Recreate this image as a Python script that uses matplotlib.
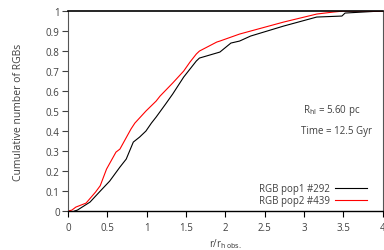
import matplotlib
matplotlib.use("Agg")
import matplotlib.pyplot as plt

plt.rcParams['font.family'] = ['Open Sans', 'DejaVu Sans']

pop1_x = [0.08, 0.12, 0.2, 0.28, 0.41, 0.53, 0.66, 0.74, 0.83, 0.91, 0.99, 1.06, 1.12, 1.24,
          1.33, 1.47, 1.55, 1.63, 1.67, 1.8, 1.93, 2.07, 2.18, 2.32, 2.74, 3.16, 3.48, 3.52, 3.97, 4.0]
pop1_y = [0, 0.005, 0.025, 0.045, 0.1, 0.15, 0.22, 0.26, 0.345, 0.37, 0.4, 0.44, 0.47, 0.535,
          0.585, 0.67, 0.71, 0.75, 0.765, 0.78, 0.795, 0.84, 0.85, 0.875, 0.925, 0.97, 0.975, 0.99, 1.0, 1.0]
pop2_x = [0, 0.05, 0.1, 0.23, 0.35, 0.41, 0.49, 0.61, 0.66, 0.8, 0.85, 0.99, 1.12, 1.17, 1.33,
          1.47, 1.55, 1.63, 1.67, 1.89, 1.93, 2.18, 2.32, 2.74, 3.16, 3.37, 3.5, 4.0]
pop2_y = [0, 0.005, 0.02, 0.04, 0.095, 0.127, 0.21, 0.295, 0.31, 0.41, 0.44, 0.5, 0.55, 0.575, 0.64,
          0.7, 0.745, 0.785, 0.8, 0.845, 0.85, 0.885, 0.9, 0.945, 0.985, 0.995, 1.0, 1.0]
labels = ["RGB pop1 #292", "RGB pop2 #439"]
xticks = [0, 0.5, 1, 1.5, 2, 2.5, 3, 3.5, 4]
yticks = [0, 0.1, 0.2, 0.3, 0.4, 0.5, 0.6, 0.7, 0.8, 0.9, 1]

txt = '#404040'
fig = plt.figure(figsize=(3.84, 2.51), dpi=100)
ax = fig.add_axes([0.177, 0.155, 0.82, 0.797])
ax.plot(pop1_x, pop1_y, color='black', lw=0.8, label=labels[0])
ax.plot(pop2_x, pop2_y, color='red', lw=0.8, label=labels[1])
ax.set_xlim(0, 4)
ax.set_ylim(0, 1)
ax.set_xticks(xticks)
ax.set_xticklabels([f"{t:g}" for t in xticks])
ax.set_yticks(yticks)
ax.set_yticklabels([f"{t:g}" for t in yticks])
ax.tick_params(axis='both', labelsize=7, colors=txt, length=4, width=0.8, pad=2)
ax.tick_params(axis='x', color='black', pad=4)
for s in ['left', 'right']:
    ax.spines[s].set_color('#555555')
    ax.spines[s].set_linewidth(0.8)
ax.spines['top'].set_color('black')
ax.spines['top'].set_linewidth(1.2)
ax.spines['bottom'].set_color('black')
ax.spines['bottom'].set_linewidth(1.0)
ax.set_xlabel(r"r/r$_{\rm h\,obs.}$", fontsize=7, color=txt, labelpad=2)
ax.set_ylabel("Cumulative number of RGBs", fontsize=7.5, color=txt, labelpad=16)
ax.text(3.72, 0.51, r"R$_{\rm hl}$ = 5.60 pc", fontsize=7, color=txt, ha='right', va='center')
ax.text(3.866, 0.405, "Time = 12.5 Gyr", fontsize=7, color=txt, ha='right', va='center')
leg = ax.legend(loc='lower right', bbox_to_anchor=(0.97, -0.01), fontsize=7, frameon=False,
                markerfirst=False, handlelength=3.2, handletextpad=0.6, labelspacing=0.1,
                borderpad=0.2)
for t in leg.get_texts():
    t.set_color(txt)
fig.savefig("out.png", dpi=100)
